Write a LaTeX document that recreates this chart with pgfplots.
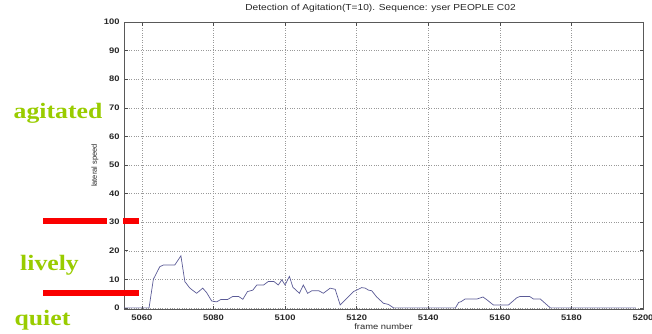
\documentclass[border=0pt]{standalone}
\usepackage{pgfplots}
\pgfplotsset{compat=1.18}
\usepackage{fontspec}
\setmainfont{Liberation Sans}[FakeStretch=1.17]
\newfontfamily\plainsans{Liberation Sans}
\newfontfamily\greenfont{Liberation Serif}[FakeStretch=1.17]
\definecolor{lbl}{RGB}{153,204,0}
\definecolor{ln}{RGB}{90,90,150}
\definecolor{bar}{RGB}{250,0,0}
\begin{document}
\begin{tikzpicture}[x=1pt,y=1pt]
\useasboundingbox (0,0) rectangle (652,333);
\begin{axis}[
  at={(124pt,24pt)}, anchor=south west,
  scale only axis, width=519pt, height=287pt,
  xmin=5055, xmax=5200, ymin=-0.4, ymax=100,
  xtick={5060,5080,...,5200}, ytick={0,10,...,100},
  grid=major,
  grid style={dotted, black!40, line width=0.35pt},
  tick align=inside, major tick length=3.5pt,
  tick style={black!70, line width=0.4pt},
  axis line style={black!65, line width=0.6pt},
  /pgf/number format/assume math mode=true,
  /pgf/number format/1000 sep={},
  ticklabel style={font=\fontsize{8}{9}\selectfont\bfseries, text=black!85},
  xticklabel style={anchor=base, yshift=-11pt},
  yticklabel style={anchor=east, xshift=-1pt},
  title={Detection of Agitation(T=10). Sequence: yser PEOPLE C02},
  title style={font=\fontsize{8.7}{10}\selectfont, text=black!85, at={(axis description cs:0.5,1)}, anchor=base, yshift=5pt, xshift=-3pt},
  xlabel={frame number},
  xlabel style={font=\fontsize{8}{9}\selectfont, text=black!85, at={(axis description cs:0.5,0)}, anchor=base, yshift=-20pt},
  ylabel={lateral speed},
  ylabel style={font=\plainsans\fontsize{7.5}{9}\selectfont, text=black!85, at={(axis description cs:-0.0559,0.5)}, anchor=center},
]
\addplot[ln, line width=0.7pt] coordinates {
(5055,0) (5062,0) (5063.2,10) (5065,14.4) (5066,15) (5069.2,15) (5070.9,18.2)
(5072,9.2) (5073.4,6.9) (5075.3,5.1) (5077,6.9) (5078.1,5.3) (5079.5,2.4)
(5080.9,2.1) (5082,2.9) (5083.9,2.9) (5085.4,4) (5087,4) (5088.2,3) (5089.5,5.7)
(5091,6.2) (5092.1,8) (5094,8) (5095.3,9.2) (5096.9,9.2) (5098.1,8) (5099.1,9.8)
(5100,8) (5101.2,11) (5102.2,7.2) (5104,5.1) (5105.1,8) (5106.3,5.1) (5107.5,6)
(5109.4,6) (5110.7,5.1) (5112.6,6.9) (5114,6.5) (5115.4,1.0) (5116.8,2.8)
(5119.1,5.7) (5120,6.2) (5121.4,7.1) (5122.4,6.9) (5123.3,6.2) (5124.2,6)
(5125.6,3.8) (5127.5,1.6) (5128.9,1.2) (5130.3,0) (5147.6,0) (5148.5,1.9)
(5149.2,2.2) (5150.3,3.1) (5153.6,3.1) (5155.3,3.8) (5156.4,2.8) (5158.2,1.0)
(5162.4,1.0) (5164.8,3.6) (5165.7,4) (5168.3,4) (5169.4,3.1) (5171.3,3.1)
(5174.1,0) (5198,0)
};
\end{axis}
% threshold bars and class annotations
\draw[bar, line width=6pt] (43,112) -- (107,112);
\draw[bar, line width=6pt] (123,112) -- (139,112);
\draw[bar, line width=6pt] (43,40) -- (139,40);
\node[anchor=base, inner sep=0, text=lbl, font=\greenfont\bfseries\fontsize{22}{24}\selectfont] at (58,215) {agitated};
\node[anchor=base, inner sep=0, text=lbl, font=\greenfont\bfseries\fontsize{22}{24}\selectfont] at (49.5,63) {lively};
\node[anchor=base, inner sep=0, text=lbl, font=\greenfont\bfseries\fontsize{22}{24}\selectfont] at (42.5,8) {quiet};
\end{tikzpicture}
\end{document}
